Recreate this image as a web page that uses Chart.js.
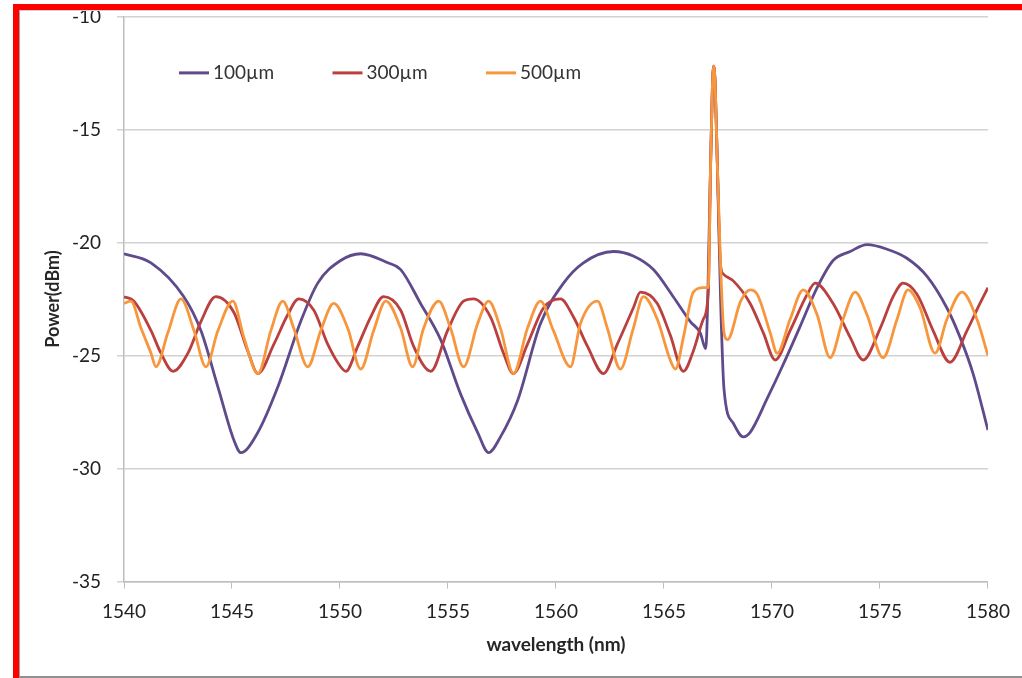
<!DOCTYPE html>
<html>
<head>
<meta charset="utf-8">
<title>Power vs wavelength</title>
<script src="https://cdn.jsdelivr.net/npm/chart.js@4.4.1/dist/chart.umd.min.js"></script>
<style>
  html, body { margin: 0; padding: 0; background: #fff; overflow: hidden; }
  #wrap { position: relative; width: 1022px; height: 678px; overflow: hidden; }
  #plot { position: absolute; left: 0; top: -11.5px; width: 1022px; height: 689.5px; }
  #frame {
    position: absolute; left: 13px; top: 4px; width: 1020px; height: 680px;
    border-left: 6px solid #ff0000; border-top: 6px solid #ff0000;
    pointer-events: none;
  }
  #inner {
    position: absolute; left: 19px; top: 10px; width: 1010px; height: 665px;
    border-left: 1px solid #a0a0a0; border-top: 1px solid #d0d0d0; border-bottom: 2px solid #909090;
    pointer-events: none;
  }
</style>
</head>
<body>
<div id="wrap">
  <div id="plot"><canvas id="power-chart"></canvas></div>
  <div id="inner"></div>
  <div id="frame"></div>
</div>
<script>
// Data (wavelength in nm, power in dBm)

const seriesNames = ["100\u00b5m", "300\u00b5m", "500\u00b5m"];

const wl100 = [1540.0, 1541.25, 1542.77, 1543.56, 1544.35, 1545.09, 1545.41, 1546.2, 1547.12, 1548.18,
  1548.97, 1550.03, 1550.96, 1552.21, 1552.81, 1553.73, 1554.66, 1555.58, 1556.37, 1556.88,
  1557.43, 1558.22, 1559.28, 1560.35, 1561.27, 1562.66, 1563.58, 1564.51, 1565.43, 1566.22,
  1566.68, 1566.93, 1567.16, 1567.24, 1567.3, 1567.37, 1567.47, 1567.62, 1567.78, 1568.21,
  1568.67, 1568.99, 1569.78, 1570.52, 1571.31, 1572.09, 1572.83, 1573.62, 1574.4, 1575.33,
  1576.25, 1577.18, 1578.1, 1578.71, 1579.31, 1580.0];
const pw100 = [-20.5, -20.9, -22.4, -23.9, -26.4, -28.75, -29.3, -28.4, -26.4, -23.5,
  -21.8, -20.8, -20.5, -20.9, -21.2, -22.7, -24.3, -26.7, -28.4, -29.3,
  -28.6, -27.0, -23.6, -21.8, -20.9, -20.4, -20.6, -21.2, -22.4, -23.5,
  -24.0, -24.7, -16.5, -13.2, -12.2, -13.0, -16.5, -22.5, -26.5, -28.0,
  -28.6, -28.4, -26.9, -25.4, -23.7, -22.0, -20.8, -20.4, -20.1, -20.3,
  -20.7, -21.5, -22.9, -24.2, -25.8, -28.3];

const wl300 = [1540.0, 1540.46, 1541.25, 1541.71, 1542.27, 1542.96, 1543.56, 1544.25, 1545.09, 1545.73,
  1546.2, 1546.94, 1547.58, 1548.09, 1548.79, 1549.43, 1550.03, 1550.27, 1550.82, 1551.42,
  1552.02, 1552.81, 1553.41, 1554.2, 1554.98, 1555.72, 1556.18, 1556.97, 1557.57, 1558.03,
  1558.68, 1559.42, 1560.21, 1560.81, 1561.46, 1562.2, 1562.84, 1563.58, 1563.91, 1564.69,
  1565.29, 1565.9, 1566.36, 1566.82, 1567.05, 1567.16, 1567.24, 1567.3, 1567.37, 1567.47,
  1567.62, 1567.75, 1568.21, 1568.99, 1569.6, 1570.15, 1570.84, 1571.63, 1572.0, 1572.83,
  1573.62, 1574.22, 1575.01, 1575.61, 1576.07, 1576.72, 1577.46, 1578.24, 1579.03, 1579.63,
  1580.0];
const pw300 = [-22.4, -22.6, -23.9, -24.9, -25.7, -24.9, -23.5, -22.4, -23.1, -24.8,
  -25.8, -24.5, -23.2, -22.5, -23.0, -24.5, -25.5, -25.7, -24.6, -23.3,
  -22.4, -23.0, -24.6, -25.7, -23.9, -22.6, -22.5, -23.3, -24.9, -25.8,
  -24.5, -22.9, -22.5, -23.3, -24.6, -25.8, -24.5, -22.9, -22.2, -22.7,
  -24.1, -25.7, -24.8, -23.4, -22.2, -16.5, -13.2, -12.2, -13.0, -16.5,
  -21.0, -21.4, -21.7, -22.7, -24.0, -25.2, -23.9, -22.3, -21.8, -22.7,
  -24.2, -25.2, -23.8, -22.4, -21.8, -22.3, -23.9, -25.3, -23.9, -22.7,
  -22.0];

const wl500 = [1540.0, 1540.32, 1540.79, 1541.25, 1541.48, 1542.03, 1542.64, 1543.24, 1543.79, 1544.35,
  1545.04, 1545.55, 1546.2, 1546.8, 1547.35, 1547.86, 1548.51, 1549.11, 1549.71, 1550.36,
  1550.96, 1551.56, 1552.12, 1552.81, 1553.36, 1553.87, 1554.57, 1555.12, 1555.72, 1556.37,
  1556.88, 1557.43, 1558.03, 1558.68, 1559.28, 1559.88, 1560.67, 1561.13, 1561.92, 1562.38,
  1562.98, 1563.58, 1564.05, 1564.69, 1565.29, 1565.53, 1565.9, 1566.36, 1566.82, 1567.05,
  1567.16, 1567.24, 1567.3, 1567.37, 1567.47, 1567.62, 1567.78, 1567.94, 1568.55, 1568.99,
  1569.32, 1569.92, 1570.24, 1570.84, 1571.45, 1572.09, 1572.69, 1573.29, 1573.85, 1574.4,
  1575.14, 1575.79, 1576.3, 1576.86, 1577.55, 1578.1, 1578.8, 1579.49, 1580.0];
const pw500 = [-22.7, -22.6, -23.8, -24.9, -25.5, -24.0, -22.5, -23.9, -25.5, -23.9,
  -22.6, -24.2, -25.8, -23.9, -22.6, -23.8, -25.5, -23.9, -22.7, -23.8,
  -25.6, -23.9, -22.6, -23.8, -25.5, -23.8, -22.6, -23.8, -25.5, -23.6,
  -22.6, -23.8, -25.8, -23.8, -22.6, -23.9, -25.5, -23.6, -22.6, -23.8,
  -25.6, -23.8, -22.4, -23.4, -25.2, -25.6, -24.2, -22.2, -22.0, -22.0,
  -16.5, -13.2, -12.2, -13.0, -16.5, -21.0, -24.0, -24.3, -22.6, -22.1,
  -22.3, -24.0, -24.9, -23.4, -22.1, -23.2, -25.1, -23.4, -22.2, -23.2,
  -25.1, -23.4, -22.1, -22.9, -24.9, -23.4, -22.2, -23.4, -25.0];

const xTicks = [1540, 1545, 1550, 1555, 1560, 1565, 1570, 1575, 1580];
const yTicks = [-35, -30, -25, -20, -15, -10];

const lineColors = ['#5f4b8b', '#b9403e', '#f7963c'];

function toPoints(xs, ys) {
    return xs.map((x, i) => ({ x: x, y: ys[i] }));
}

const FONT = 'Lato, "Open Sans", sans-serif';

// Legend drawn inside the plot area, like the original
const innerLegend = {
    id: 'innerLegend',
    afterDraw(chart) {
        const ctx = chart.ctx;
        const area = chart.chartArea;
        ctx.save();
        ctx.font = '19px ' + FONT;
        ctx.textBaseline = 'middle';
        ctx.textAlign = 'left';
        chart.data.datasets.forEach((ds, i) => {
            const x = area.left + 55 + i * 153.5;
            const y = area.top + 56.5;
            ctx.strokeStyle = ds.borderColor;
            ctx.lineWidth = 3;
            ctx.beginPath();
            ctx.moveTo(x, y);
            ctx.lineTo(x + 30, y);
            ctx.stroke();
            ctx.fillStyle = '#333';
            ctx.fillText(ds.label, x + 34, y);
        });
        ctx.restore();
    }
};

const chartCanvas = document.getElementById('power-chart');

let chartData = {
    datasets: [
        { label: seriesNames[0], data: toPoints(wl100, pw100), borderColor: lineColors[0], order: 2 },
        { label: seriesNames[1], data: toPoints(wl300, pw300), borderColor: lineColors[1], order: 1 },
        { label: seriesNames[2], data: toPoints(wl500, pw500), borderColor: lineColors[2], order: 0 }
    ]
};

chartData.datasets.forEach(ds => {
    ds.borderWidth = 2.8;
    ds.pointRadius = 0;
    ds.fill = false;
    ds.cubicInterpolationMode = 'monotone';
});

let chartOptions = {
    responsive: true,
    maintainAspectRatio: false,
    animation: false,
    layout: {
        padding: { left: 38, right: 31, top: 4, bottom: 18 }
    },
    scales: {
        x: {
            type: 'linear',
            min: 1540,
            max: 1580,
            afterBuildTicks: scale => { scale.ticks = xTicks.map(v => ({ value: v })); },
            afterFit: scale => { scale.height = 79; },
            ticks: {
                color: '#222',
                font: { family: FONT, size: 19 },
                padding: 12,
                maxRotation: 0,
                callback: v => String(v)
            },
            grid: {
                drawOnChartArea: false,
                drawTicks: true,
                tickLength: 7,
                color: '#bdbdbd'
            },
            border: { color: '#bdbdbd', width: 1.5 },
            title: {
                display: true,
                text: 'wavelength (nm)',
                color: '#262626',
                font: { family: FONT, size: 19, weight: 'bold' }
            }
        },
        y: {
            min: -35,
            max: -10,
            afterBuildTicks: scale => { scale.ticks = yTicks.map(v => ({ value: v })); },
            afterFit: scale => { scale.width = 86; },
            ticks: {
                color: '#222',
                font: { family: FONT, size: 19 },
                padding: 16,
                callback: v => String(v)
            },
            grid: {
                color: '#d2d2d2',
                lineWidth: 1.5,
                tickLength: 7
            },
            border: { color: '#bdbdbd', width: 1.5 },
            title: {
                display: true,
                text: 'Power(dBm)',
                color: '#262626',
                font: { family: FONT, size: 18, weight: 'bold' }
            }
        }
    },
    plugins: {
        legend: { display: false },
        tooltip: { enabled: false }
    }
};

let powerChart = new Chart(chartCanvas, {
    type: 'line',
    data: chartData,
    options: chartOptions,
    plugins: [innerLegend]
});
</script>
</body>
</html>
